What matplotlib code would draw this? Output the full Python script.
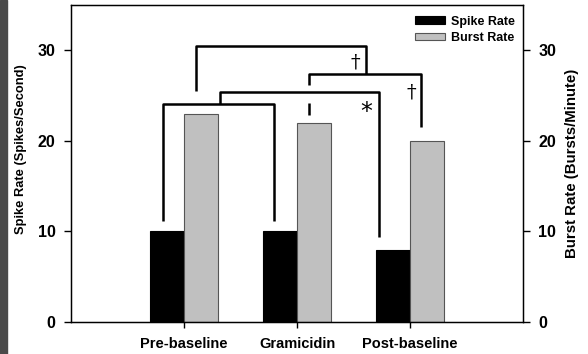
import matplotlib
matplotlib.use("Agg")
import matplotlib.pyplot as plt
from matplotlib.patches import Rectangle
import numpy as np

plt.rcParams['font.family'] = ['Liberation Sans', 'DejaVu Sans']

categories = ["Pre-baseline", "Gramicidin", "Post-baseline"]
spike_rate = [10, 10, 8]
burst_rate = [23, 22, 20]

# significance bracket paths (x in category units, y in data units)
brackets = [
    [(1.11, 25.5), (1.11, 30.5), (2.61, 30.5), (2.61, 27.4)],
    [(2.11, 26.2), (2.11, 27.4), (3.10, 27.4), (3.10, 21.5)],
    [(2.11, 24.2), (2.11, 22.9)],
    [(1.32, 24.1), (1.32, 25.4), (2.73, 25.4), (2.73, 9.4)],
    [(0.81, 11.2), (0.81, 24.1), (1.80, 24.1), (1.80, 11.2)],
]
symbols = [("\u2020", 2.52, 28.6), ("\u2020", 3.01, 25.3), ("*", 2.61, 23.2)]

fig = plt.figure(figsize=(5.88, 3.54), dpi=100)
fig.patches.append(Rectangle((0, 0), 7/588, 1, transform=fig.transFigure,
                             color="#4a4a4a", zorder=-1))
ax = fig.add_axes([71/588, 1-322/354, 452/588, 317/354])
x = np.arange(1, len(categories)+1)
w = 0.3
ax.bar(x - w/2, spike_rate, w, color="black", edgecolor="black", linewidth=0.8,
       label="Spike Rate", zorder=2)
ax.bar(x + w/2, burst_rate, w, color="#c0c0c0", edgecolor="#555555", linewidth=0.8,
       label="Burst Rate", zorder=2)
ax.set_xlim(0, 4)
ax.set_ylim(0, 35)
ax.set_xticks(x)
ax.set_xticklabels(categories, fontsize=10.5, fontweight="bold")
ax.set_yticks([0, 10, 20, 30])
ax.tick_params(axis='y', direction='out', length=5, width=1, labelsize=11.5, pad=6)
ax.tick_params(axis='x', direction='out', length=4, width=1, pad=7)
for t in ax.get_yticklabels():
    t.set_fontweight("bold")
for s in ax.spines.values():
    s.set_linewidth(1)
ax.set_ylabel("Spike Rate (Spikes/Second)", fontsize=9.3, fontweight="bold")
ax.yaxis.set_label_coords(-0.097, 0.546)

ax2 = ax.twinx()
ax2.set_ylim(0, 35)
ax2.set_yticks([0, 10, 20, 30])
ax2.tick_params(axis='y', direction='out', length=5, width=1, labelsize=11.5, pad=6)
for t in ax2.get_yticklabels():
    t.set_fontweight("bold")
ax2.set_ylabel("Burst Rate (Bursts/Minute)", fontsize=10.8, fontweight="bold")
ax2.yaxis.set_label_coords(1.093, 0.5)

for path in brackets:
    xs, ys = zip(*path)
    ax.plot(xs, ys, color="black", lw=1.8, solid_capstyle="butt", zorder=3)
for s, sx, sy in symbols:
    if s == "*":
        ax.text(sx, sy, s, fontsize=17, ha="center", va="center", family="DejaVu Sans")
    else:
        ax.text(sx, sy, s, fontsize=14, ha="center", va="center", family="DejaVu Serif")

leg = ax.legend(loc="upper right", bbox_to_anchor=(0.9934, 0.9826), frameon=False,
                prop={"weight": "bold", "size": 9}, handlelength=2.4,
                handleheight=0.6, borderaxespad=0, borderpad=0.4,
                labelspacing=0.35, handletextpad=0.5)

fig.savefig("out.png", dpi=100)
